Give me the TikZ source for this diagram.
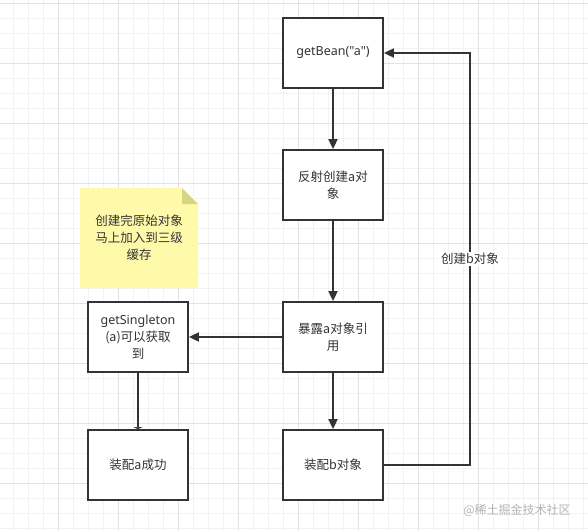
\documentclass[tikz,border=0pt]{standalone}
\usepackage{fontspec}
\setmainfont{Noto Sans CJK SC}
\newfontfamily\latinfont{Noto Sans}
\definecolor{dkline}{RGB}{51,51,51}
\definecolor{gridminor}{RGB}{242,242,242}
\definecolor{gridmajor}{RGB}{226,226,226}
\definecolor{noteyellow}{RGB}{255,250,170}
\definecolor{notefold}{RGB}{214,214,128}
\definecolor{wmgray}{RGB}{180,180,180}
\usetikzlibrary{arrows.meta,positioning}

\begin{document}
\begin{tikzpicture}[x=1pt, y=-1pt,
        stepbox/.style={rectangle, draw=dkline, line width=1.8pt, fill=white,
                        minimum width=100pt, minimum height=70pt, align=center,
                        text=dkline, font=\fontsize{12.5}{17}\selectfont},
        notetext/.style={align=center, text=dkline, font=\fontsize{12.5}{17}\selectfont},
        flow/.style={-{Triangle[length=10pt,width=9pt]}, line width=1.8pt, dkline},
        edgelbl/.style={fill=white, inner sep=1pt, text=dkline,
                        font=\fontsize{12.5}{17}\selectfont}
      ]
        \useasboundingbox (0,0) rectangle (588,531);
        \fill[white] (0,0) rectangle (588,531);
        \foreach \k in {0,...,38} {
          \pgfmathsetmacro{\gx}{13+15*\k}
          \draw[gridminor, line width=1pt] (\gx,0) -- (\gx,531);
        }
        \foreach \k in {0,...,35} {
          \pgfmathsetmacro{\gy}{3+15*\k}
          \draw[gridminor, line width=1pt] (0,\gy) -- (588,\gy);
        }
        \foreach \k in {0,...,9} {
          \pgfmathsetmacro{\gx}{58+60*\k}
          \draw[gridmajor, line width=1pt] (\gx,0) -- (\gx,531);
        }
        \foreach \k in {0,...,8} {
          \pgfmathsetmacro{\gy}{3+60*\k}
          \draw[gridmajor, line width=1pt] (0,\gy) -- (588,\gy);
        }

        \fill[noteyellow] (80,288) -- (80,188) -- (182,188) -- (198,204) -- (198,288) -- cycle;
        \fill[notefold] (182,188) -- (198,204) -- (182,204) -- cycle;
        \node[notetext] (note) at (139,238) {创建完原始对象\\马上加入到三级\\缓存};

        \node[stepbox] (getbean) at (333,53) {{\latinfont getBean("a")}};
        \node[stepbox] (reflect) at (333,185) {反射创建a对\\象};
        \node[stepbox] (expose) at (333,337) {暴露a对象引\\用};
        \node[stepbox] (single) at (138,337) {{\latinfont getSingleton}\\(a)可以获取\\到};
        \node[stepbox] (asmba) at (138,465) {装配a成功};
        \node[stepbox] (asmbb) at (333,465) {装配b对象};
        \coordinate (turn) at (470,53);

        \draw[flow] (getbean.south) -- (reflect.north);
        \draw[flow] (reflect.south) -- (expose.north);
        \draw[flow] (expose.west) -- (single.east);
        \draw[flow] (expose.south) -- (asmbb.north);
        \draw[-{Triangle[length=2pt,width=9pt]}, line width=1.8pt, dkline] (single.south) -- (asmba.north);
        \draw[flow] (asmbb.east) -| (turn) node[edgelbl, pos=0.75] (lblb) {创建b对象} -- (getbean.east);

        \node[text=wmgray, font=\fontsize{12}{14}\selectfont] (mark) at (517,510) {@稀土掘金技术社区};
      \end{tikzpicture}
\end{document}
